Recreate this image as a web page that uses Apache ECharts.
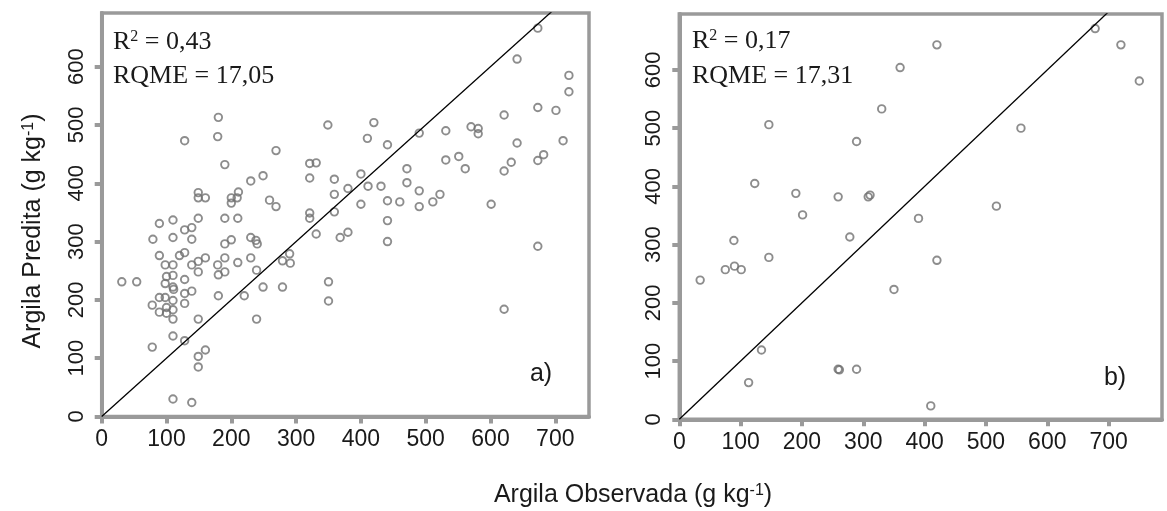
<!DOCTYPE html>
<html><head><meta charset="utf-8">
<script src="https://cdn.jsdelivr.net/npm/echarts@6/dist/echarts.min.js"></script>
<style>html,body{margin:0;padding:0;background:#fff}#c{width:1167px;height:511px}</style>
</head><body><div id="c"></div>
<script>
// ---- data (panel a) ----
const leftObserved = [180,179,128,349,269,190,321,331,249,230,321,359,359,149,149,160,211,200,209,200,259,269,321,321,359,89,110,149,190,210,128,139,79,110,139,190,200,230,238,240,331,368,89,120,128,98,110,139,149,160,149,179,190,210,230,180,190,239,279,290,291,100,110,98,110,111,31,54,128,128,139,98,110,78,89,89,100,100,110,128,180,220,249,279,350,350,110,149,239,110,128,78,149,160,149,110,139,673,641,721,721,673,701,621,420,410,441,490,531,570,581,581,641,712,531,551,561,621,632,673,682,400,380,411,431,471,471,490,400,441,460,490,511,522,601,380,441,441,673,621];
const leftPredicted = [513,480,473,500,456,432,434,435,413,404,409,407,381,384,375,375,385,375,375,366,371,360,349,340,351,331,337,340,340,340,320,324,304,307,304,296,303,307,302,296,313,307,276,276,281,260,260,260,266,272,248,260,272,264,272,243,248,251,267,279,263,240,242,228,222,218,231,231,235,211,215,204,199,191,204,179,187,177,183,194,207,207,222,222,231,198,167,167,167,138,130,119,103,114,85,30,24,666,613,585,557,530,525,517,504,477,466,486,490,497,494,485,469,473,440,446,425,421,436,439,449,416,391,395,395,425,401,387,364,370,368,360,368,381,364,316,336,300,292,184];
// ---- data (panel b) ----
const rightObserved = [360,330,146,289,123,190,259,308,311,201,390,89,278,420,678,720,750,557,517,34,75,90,101,146,350,134,113,259,261,289,420,410];
const rightPredicted = [604,533,506,477,405,388,382,382,385,351,345,307,313,643,671,643,581,500,366,239,257,263,257,278,223,119,63,86,85,86,273,23];
// ---- ticks / reference line / stats ----
const xTickValues = [0,100,200,300,400,500,600,700];
const yTickValues = [0,100,200,300,400,500,600];
const oneToOne = [0,800];
const statsA = {r2:'0,43', rqme:'17,05', tag:'a)'};
const statsB = {r2:'0,17', rqme:'17,31', tag:'b)'};

const GRAY = '#9a9a9a';
const TXT = '#1a1a1a';
function xAx(g, max){
  return {type:'value', gridIndex:g, min:0, max:max,
    axisLine:{show:true, onZero:false, lineStyle:{color:GRAY, width:4}},
    axisTick:{show:true, inside:false, length:7, customValues:xTickValues, lineStyle:{color:GRAY, width:4}},
    axisLabel:{customValues:xTickValues, fontFamily:'Liberation Sans', fontSize:23, color:TXT, margin:12},
    splitLine:{show:false}};
}
function yAx(g, max){
  return {type:'value', gridIndex:g, min:0, max:max,
    axisLine:{show:true, onZero:false, lineStyle:{color:GRAY, width:4}},
    axisTick:{show:true, inside:false, length:7, customValues:yTickValues, lineStyle:{color:GRAY, width:4}},
    axisLabel:{customValues:yTickValues, rotate:90, fontFamily:'Liberation Sans', fontSize:22, color:TXT, margin:14},
    splitLine:{show:false}};
}
function pts(xs, ys){ return xs.map((x,i)=>[x, ys[i]]); }
function scatter(g, data){
  return {type:'scatter', xAxisIndex:g, yAxisIndex:g, data:data, symbol:'circle', symbolSize:7.5,
    itemStyle:{color:'rgba(0,0,0,0)', borderColor:'#707070', borderWidth:1.9}, silent:true, z:2};
}
function refLine(g){
  return {type:'line', xAxisIndex:g, yAxisIndex:g, data:[[oneToOne[0],oneToOne[0]],[oneToOne[1],oneToOne[1]]],
    symbol:'none', clip:true, lineStyle:{color:'#000', width:1.3}, silent:true, z:3};
}
const serif = {fontFamily:'Liberation Serif', fontSize:26, fill:TXT};
function stat(x, y, text){
  return {type:'text', left:x, top:y, style:Object.assign({text:text,
    rich:{s:{fontFamily:'Liberation Serif', fontSize:16, verticalAlign:'top', lineHeight:15, fill:TXT}}}, serif)};
}
const supRich = {s:{fontFamily:'Liberation Sans', fontSize:16, verticalAlign:'top', lineHeight:14, fill:TXT}};

const chart = echarts.init(document.getElementById('c'), null, {renderer:'canvas'});
chart.setOption({
  backgroundColor:'#fff',
  animation:false,
  grid:[
    {left:101.7, top:13, width:487.3, height:403.5, show:true, borderColor:GRAY, borderWidth:3.5, backgroundColor:'#fff'},
    {left:679.3, top:14, width:482.7, height:405.3, show:true, borderColor:GRAY, borderWidth:3.5, backgroundColor:'#fff'}
  ],
  xAxis:[xAx(0, 752), xAx(1, 787)],
  yAxis:[yAx(0, 692), yAx(1, 696)],
  series:[
    scatter(0, pts(leftObserved, leftPredicted)), refLine(0),
    scatter(1, pts(rightObserved, rightPredicted)), refLine(1)
  ],
  graphic:[
    stat(113, 29, 'R{s|2} = ' + statsA.r2),
    stat(113, 63, 'RQME = ' + statsA.rqme),
    stat(692, 28, 'R{s|2} = ' + statsB.r2),
    stat(692, 63, 'RQME = ' + statsB.rqme),
    {type:'text', x:541, y:374, style:{text:statsA.tag, align:'center', verticalAlign:'middle', fontFamily:'Liberation Sans', fontSize:25, fill:TXT}},
    {type:'text', x:1115, y:378, style:{text:statsB.tag, align:'center', verticalAlign:'middle', fontFamily:'Liberation Sans', fontSize:25, fill:TXT}},
    {type:'text', x:633, y:495, style:{text:'Argila Observada (g kg{s|-1})', rich:supRich, align:'center', verticalAlign:'middle', fontFamily:'Liberation Sans', fontSize:25, fill:TXT}},
    {type:'text', x:33, y:231, rotation:Math.PI/2, style:{text:'Argila Predita (g kg{s|-1})', rich:supRich, align:'center', verticalAlign:'middle', fontFamily:'Liberation Sans', fontSize:25, fill:TXT}}
  ]
});
</script></body></html>
